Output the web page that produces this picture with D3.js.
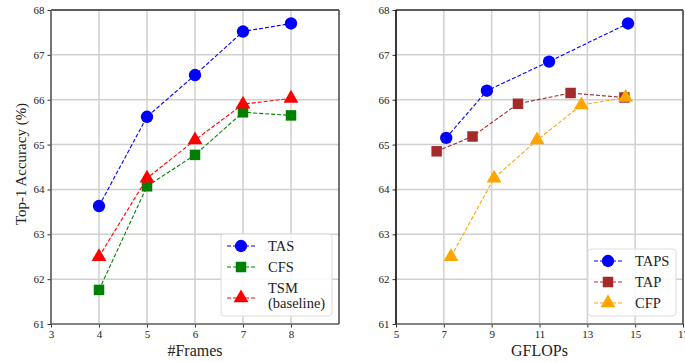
<!DOCTYPE html>
<html>
<head>
<meta charset="UTF-8">
<script src="https://cdn.jsdelivr.net/npm/d3@7"></script>
<style>
	body { margin: 0; background: #fff; }
	.grid line { stroke: #d0d0d0; stroke-width: 1.5; }
</style>
</head>
<body>
<script>
// left panel: accuracy vs number of frames
const frames = [4, 5, 6, 7, 8];
const tas = [63.63, 65.62, 66.55, 67.52, 67.70];
const cfs = [61.76, 64.07, 64.77, 65.72, 65.65];
const tsm = [62.50, 64.25, 65.10, 65.90, 66.03];

// right panel: accuracy vs GFLOPs
const tapsFlops = [7.1, 8.8, 11.4, 14.7];
const tapsAcc = [65.15, 66.20, 66.85, 67.70];
const tapFlops = [6.7, 8.2, 10.1, 12.3, 14.55];
const tapAcc = [64.85, 65.18, 65.91, 66.15, 66.05];
const cfpFlops = [7.3, 9.1, 10.9, 12.75, 14.6];
const cfpAcc = [62.50, 64.25, 65.10, 65.88, 66.05];

const frameTicks = [3, 4, 5, 6, 7, 8];
const flopTicks = [5, 7, 9, 11, 13, 15, 17];
const accTicks = [61, 62, 63, 64, 65, 66, 67, 68];

const FONT = 'Liberation Serif';
const W = 685, H = 362;
const svg = d3.select('body').append('svg').attr('width', W).attr('height', H);

function panel(opts) {
	const g = svg.append('g');
	const x = d3.scaleLinear().domain(opts.xDomain).range([opts.left, opts.right]);
	const y = d3.scaleLinear().domain([61, 68]).range([324, 10]);

	// grid
	const grid = g.append('g').attr('class', 'grid');
	grid.selectAll('.vx').data(opts.xTicks).enter().append('line')
		.attr('x1', d => x(d)).attr('x2', d => x(d)).attr('y1', 10).attr('y2', 324);
	grid.selectAll('.hy').data(accTicks).enter().append('line')
		.attr('x1', opts.left).attr('x2', opts.right).attr('y1', d => y(d)).attr('y2', d => y(d));

	// axes
	const xa = g.append('g').attr('transform', 'translate(0,324)')
		.call(d3.axisBottom(x).tickValues(opts.xTicks).tickSize(3.5).tickPadding(3).tickFormat(d3.format('d')));
	xa.select('.domain').remove();
	const ya = g.append('g').attr('transform', `translate(${opts.left},0)`)
		.call(d3.axisLeft(y).tickValues(accTicks).tickSize(3.5).tickPadding(3).tickFormat(d3.format('d')));
	ya.select('.domain').remove();
	g.selectAll('.tick line').attr('stroke', '#333');
	g.selectAll('.tick text').style('font-family', FONT).style('font-size', '11px').attr('fill', '#222');

	// frame
	g.append('line').attr('x1', opts.left).attr('x2', opts.right).attr('y1', 324).attr('y2', 324)
		.attr('stroke', '#666').attr('stroke-width', 1.5);
	g.append('line').attr('x1', opts.left).attr('x2', opts.right).attr('y1', 10).attr('y2', 10)
		.attr('stroke', '#333').attr('stroke-width', 1.5);
	g.append('line').attr('x1', opts.left).attr('x2', opts.left).attr('y1', 10).attr('y2', 324)
		.attr('stroke', opts.leftSpine).attr('stroke-width', 1.5);
	g.append('line').attr('x1', opts.right).attr('x2', opts.right).attr('y1', 10).attr('y2', 324)
		.attr('stroke', '#444').attr('stroke-width', 1.5);

	// series
	opts.series.forEach(s => {
		const pts = s.xs.map((v, i) => [x(v), y(s.ys[i])]);
		g.append('path').attr('d', d3.line()(pts))
			.attr('fill', 'none').attr('stroke', s.color).attr('stroke-width', 1.1)
			.attr('stroke-dasharray', '4,2');
		g.selectAll(null).data(pts).enter().append('path')
			.attr('transform', d => `translate(${d[0]},${d[1]})`)
			.attr('d', marker(s.shape)).attr('fill', s.color);
	});

	// axis title
	g.append('text').attr('x', (opts.left + opts.right) / 2).attr('y', 356)
		.attr('text-anchor', 'middle').style('font-family', FONT).style('font-size', '16px')
		.attr('fill', '#222').text(opts.xLabel);

	// legend
	const lg = g.append('g').attr('transform', `translate(${opts.legend.x},${opts.legend.y})`);
	lg.append('rect').attr('width', opts.legend.w).attr('height', opts.legend.h)
		.attr('rx', 3).attr('fill', 'rgba(255,255,255,0.85)').attr('stroke', '#ddd');
	let c = -9;
	opts.series.forEach(s => {
		const lines = s.name.split('\n');
		c += lines.length > 1 ? 31 : 21;
		lg.append('line').attr('x1', 6).attr('x2', 34).attr('y1', c).attr('y2', c)
			.attr('stroke', s.color).attr('stroke-width', 1.1).attr('stroke-dasharray', '4,2');
		lg.append('path').attr('transform', `translate(20,${c})`).attr('d', marker(s.shape)).attr('fill', s.color);
		lines.forEach((t, i) => {
			const ty = lines.length > 1 ? c - 10 + i * 15 : c;
			lg.append('text').attr('x', opts.legend.tx).attr('y', ty + 5)
				.style('font-family', FONT).style('font-size', '14.5px').attr('fill', '#222').text(t);
		});
	});
	return { x, y };
}

function marker(shape) {
	if (shape === 'circle') return d3.symbol(d3.symbolCircle, 120)();
	if (shape === 'square') return d3.symbol(d3.symbolSquare, 110)();
	return d3.symbol(d3.symbolTriangle, 95)();
}

panel({
	left: 51, right: 339, xDomain: [3, 9], xTicks: frameTicks, xLabel: '#Frames', leftSpine: '#555',
	series: [
		{ name: 'TAS', xs: frames, ys: tas, color: 'blue', shape: 'circle' },
		{ name: 'CFS', xs: frames, ys: cfs, color: 'green', shape: 'square' },
		{ name: 'TSM\n(baseline)', xs: frames, ys: tsm, color: 'red', shape: 'triangle' }
	],
	legend: { x: 221, y: 234, w: 111, h: 82, tx: 47 }
});

panel({
	left: 396, right: 683, xDomain: [5, 17], xTicks: flopTicks, xLabel: 'GFLOPs', leftSpine: '#000',
	series: [
		{ name: 'TAPS', xs: tapsFlops, ys: tapsAcc, color: 'blue', shape: 'circle' },
		{ name: 'TAP', xs: tapFlops, ys: tapAcc, color: 'brown', shape: 'square' },
		{ name: 'CFP', xs: cfpFlops, ys: cfpAcc, color: 'orange', shape: 'triangle' }
	],
	legend: { x: 588, y: 249, w: 88, h: 67, tx: 47 }
});

// shared y title
svg.append('text').attr('transform', 'translate(26,164) rotate(-90)')
	.attr('text-anchor', 'middle').style('font-family', FONT).style('font-size', '15px')
	.attr('fill', '#222').text('Top-1 Accuracy (%)');
</script>
</body>
</html>
